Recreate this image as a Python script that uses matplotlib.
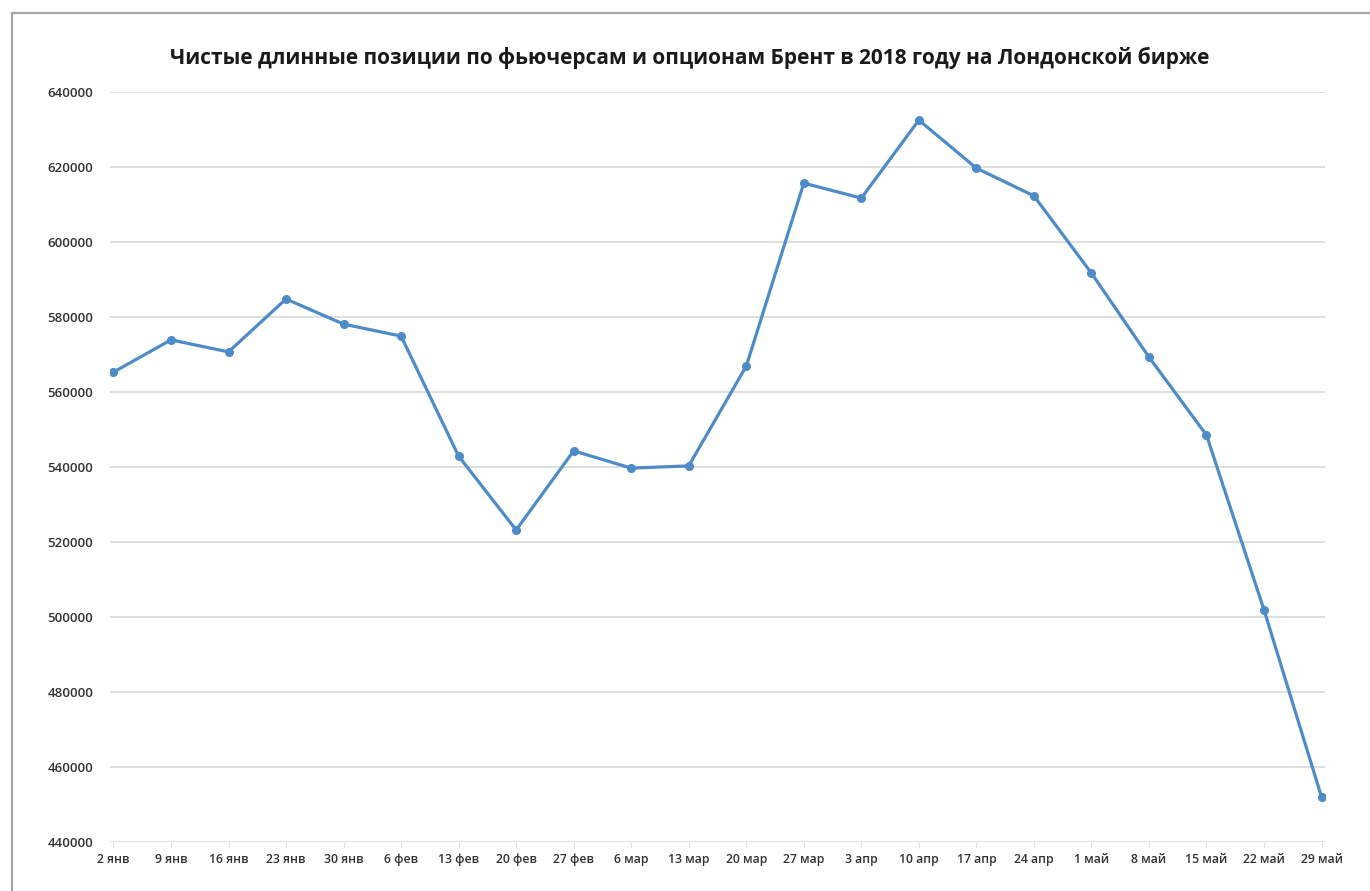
import numpy as np
import matplotlib
matplotlib.use('Agg')
import matplotlib.pyplot as plt
from matplotlib.patches import Rectangle

plt.rcParams['font.family'] = ['Open Sans', 'DejaVu Sans']

# данные
dates = ['2 янв', '9 янв', '16 янв', '23 янв', '30 янв', '6 фев', '13 фев',
         '20 фев', '27 фев', '6 мар', '13 мар', '20 мар', '27 мар', '3 апр',
         '10 апр', '17 апр', '24 апр', '1 май', '8 май', '15 май', '22 май',
         '29 май']
net_long = [565300, 573900, 570700, 584800, 578100, 574900, 542900,
            523200, 544300, 539700, 540300, 566900, 615700, 611700,
            632500, 619700, 612300, 591700, 569300, 548500, 501900,
            452000]
y_ticks = list(range(440000, 640001, 20000))

title = 'Чистые длинные позиции по фьючерсам и опционам Брент в 2018 году на Лондонской бирже'

W, H = 1370, 891
fig = plt.figure(figsize=(W/100, H/100), dpi=100)
fig.patch.set_facecolor('white')

# серая рамка вокруг диаграммы
fig.patches.append(Rectangle((12/W, -0.05), 1.2, 1 - 13/H + 0.05,
                             transform=fig.transFigure, fill=False,
                             edgecolor='#a6a6a6', linewidth=1.6))

ax = fig.add_axes([110/W, 1 - 842/H, (1325 - 110)/W, (842 - 92)/H])
x = np.arange(len(dates))
ax.plot(x, net_long, color='#4d8bc9', linewidth=2.3, marker='o',
        markersize=5.5, markerfacecolor='#4d8bc9', markeredgecolor='#4d8bc9')

ax.set_ylim(440000, 640000)
ax.set_xlim(-0.06, len(dates) - 1 + 0.06)
ax.set_yticks(y_ticks)
ax.set_yticklabels([str(v) for v in y_ticks], fontsize=9.5,
                   fontweight='semibold', color='#333333')
ax.set_xticks(x)
ax.set_xticklabels(dates, fontsize=8.8, fontweight='semibold', color='#333333')
ax.tick_params(axis='y', length=0, pad=12)
ax.tick_params(axis='x', length=4, color='#e0e0e0', pad=4)
ax.grid(axis='y', color='#dcdcdc', linewidth=1.3)
ax.set_axisbelow(True)
for s in ax.spines.values():
    s.set_visible(False)

fig.text(690/W, 1 - 58/H, title, ha='center', va='center',
         fontsize=15, fontweight='bold', color='#1a1a1a')

fig.savefig('out.png', dpi=100)
